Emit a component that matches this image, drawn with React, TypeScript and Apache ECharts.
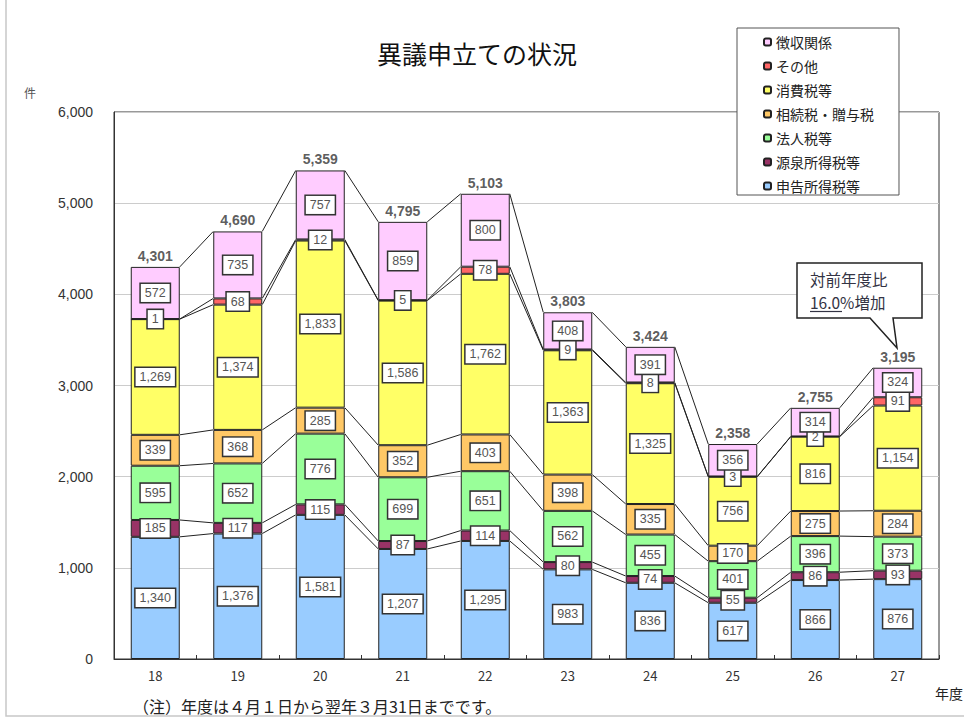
import React, { useEffect, useRef } from 'react';
import * as echarts from 'echarts';

const categories = ['18', '19', '20', '21', '22', '23', '24', '25', '26', '27'];
const shinkoku = [1340, 1376, 1581, 1207, 1295, 983, 836, 617, 866, 876];
const gensen = [185, 117, 115, 87, 114, 80, 74, 55, 86, 93];
const hojin = [595, 652, 776, 699, 651, 562, 455, 401, 396, 373];
const sozoku = [339, 368, 285, 352, 403, 398, 335, 170, 275, 284];
const shohi = [1269, 1374, 1833, 1586, 1762, 1363, 1325, 756, 816, 1154];
const sonota = [1, 68, 12, 5, 78, 9, 8, 3, 2, 91];
const choshu = [572, 735, 757, 859, 800, 408, 391, 356, 314, 324];
const totals = [4301, 4690, 5359, 4795, 5103, 3803, 3424, 2358, 2755, 3195];

const seriesNames = ['申告所得税等', '源泉所得税等', '法人税等', '相続税・贈与税', '消費税等', 'その他', '徴収関係'];
const seriesData = [shinkoku, gensen, hojin, sozoku, shohi, sonota, choshu];
const seriesColors = ['#99CCFF', '#993366', '#99FF99', '#FFC866', '#FFFF66', '#FF6666', '#FFCCFF'];

const BAR_W = 49;
const fmt = (v: number) => v.toLocaleString('en-US');

export default function App() {
  const ref = useRef<HTMLDivElement>(null);
  useEffect(() => {
    document.body.style.margin = '0';
    const chart = echarts.init(ref.current!, null, { renderer: 'svg' });

    const cumulative: number[][] = [];
    let run = categories.map(() => 0);
    seriesData.forEach((arr) => {
      run = run.map((v, i) => v + arr[i]);
      cumulative.push(run.slice());
    });

    const barSeries = seriesData.map((arr, k) => ({
      name: seriesNames[k],
      type: 'bar',
      stack: 'all',
      barWidth: BAR_W,
      data: arr,
      itemStyle: { color: seriesColors[k], borderColor: '#222', borderWidth: 1 },
      label: {
        show: true,
        position: 'inside',
        formatter: (p: any) => fmt(p.value),
        backgroundColor: '#fff',
        borderColor: '#333',
        borderWidth: 1.5,
        padding: [3, 4, 2, 4],
        color: '#555',
        fontSize: 12.5,
        fontFamily: 'Liberation Sans',
      },
      z: 3,
    }));

    chart.setOption({
      animation: false,
      backgroundColor: '#fff',
      grid: {
        left: 114, right: 25, top: 112, bottom: 62,
        show: true, borderColor: '#333', borderWidth: 1,
      },
      legend: {
        orient: 'vertical',
        left: 737, top: 28,
        data: seriesNames.slice().reverse(),
        itemWidth: 7, itemHeight: 7, itemGap: 10,
        padding: [7, 25, 2, 26],
        backgroundColor: '#fff', borderColor: '#555', borderWidth: 1,
        textStyle: { fontSize: 14, color: '#222', fontFamily: 'Noto Sans CJK JP', lineHeight: 14 },
        selectedMode: false,
      },
      xAxis: {
        type: 'category',
        data: categories,
        axisLine: { lineStyle: { color: '#333' } },
        axisTick: { show: true, inside: true, length: 4, lineStyle: { color: '#333' } },
        axisLabel: { fontSize: 13, color: '#333', margin: 10, fontFamily: 'Noto Sans CJK JP' },
      },
      yAxis: {
        type: 'value',
        min: 0, max: 6000, interval: 1000,
        axisLine: { show: true, lineStyle: { color: '#333' } },
        axisTick: { show: false },
        axisLabel: { fontSize: 14, color: '#333', margin: 21, formatter: (v: number) => fmt(v), fontFamily: 'Liberation Sans' },
        splitLine: { lineStyle: { color: '#ccc' } },
      },
      series: [
        ...barSeries,
        {
          type: 'custom',
          name: 'serieslines',
          silent: true,
          z: 1,
          data: categories.slice(0, -1).map((_, i) => [i, 0]),
          renderItem: (params: any, api: any) => {
            const i = api.value(0);
            const half = BAR_W / 2;
            const children = cumulative.map((cum) => {
              const a = api.coord([i, cum[i]]);
              const b = api.coord([i + 1, cum[i + 1]]);
              return {
                type: 'line',
                shape: { x1: a[0] + half, y1: a[1], x2: b[0] - half, y2: b[1] },
                style: { stroke: '#222', lineWidth: 1 },
              };
            });
            return { type: 'group', children };
          },
        },
        {
          type: 'scatter',
          name: 'totals',
          silent: true,
          symbolSize: 0,
          data: totals.map((t, i) => [i, t]),
          label: {
            show: true,
            position: 'top',
            distance: 4,
            formatter: (p: any) => fmt(p.value[1]),
            fontSize: 14,
            color: '#333',
            fontWeight: 'bold',
            fontFamily: 'Liberation Sans',
          },
          z: 5,
        },
      ],
      graphic: [
        { type: 'rect', shape: { x: 6, y: -2, width: 962, height: 718 }, style: { fill: 'none', stroke: '#c8c8c8', lineWidth: 1.5 }, silent: true },
        { type: 'text', x: 477, y: 53, style: { text: '異議申立ての状況', fontSize: 25, fill: '#111', align: 'center', verticalAlign: 'middle', fontFamily: 'Noto Sans CJK JP' } },
        { type: 'text', x: 30, y: 92, style: { text: '件', fontSize: 12, fill: '#555', align: 'center', verticalAlign: 'middle', fontFamily: 'Noto Sans CJK JP' } },
        { type: 'text', x: 935, y: 693, style: { text: '年度', fontSize: 14, fill: '#222', align: 'left', verticalAlign: 'middle', fontFamily: 'Noto Sans CJK JP' } },
        { type: 'text', x: 133, y: 706, style: { text: '（注）年度は４月１日から翌年３月31日までです。', fontSize: 16, fill: '#222', align: 'left', verticalAlign: 'middle', fontFamily: 'Noto Sans CJK JP' } },
        {
          type: 'polygon',
          shape: { points: [[797, 263], [922, 263], [922, 318], [893, 318], [897, 348], [870, 318], [797, 318]] },
          style: { fill: '#fff', stroke: '#222', lineWidth: 1.5 },
          z: 10,
        },
        { type: 'text', x: 810, y: 279, z: 11, style: { text: '対前年度比', fontSize: 15.5, fill: '#334', align: 'left', verticalAlign: 'middle', fontFamily: 'Noto Sans CJK JP' } },
        { type: 'text', x: 810, y: 302, z: 11, style: { text: '16.0%増加', fontSize: 15.5, fill: '#334', align: 'left', verticalAlign: 'middle', fontFamily: 'Noto Sans CJK JP' } },
        { type: 'line', z: 11, shape: { x1: 810, y1: 311.5, x2: 842, y2: 311.5 }, style: { stroke: '#334', lineWidth: 1.2 } },
      ],
    });
    return () => chart.dispose();
  }, []);
  return <div ref={ref} style={{ width: 964, height: 721 }} />;
}
